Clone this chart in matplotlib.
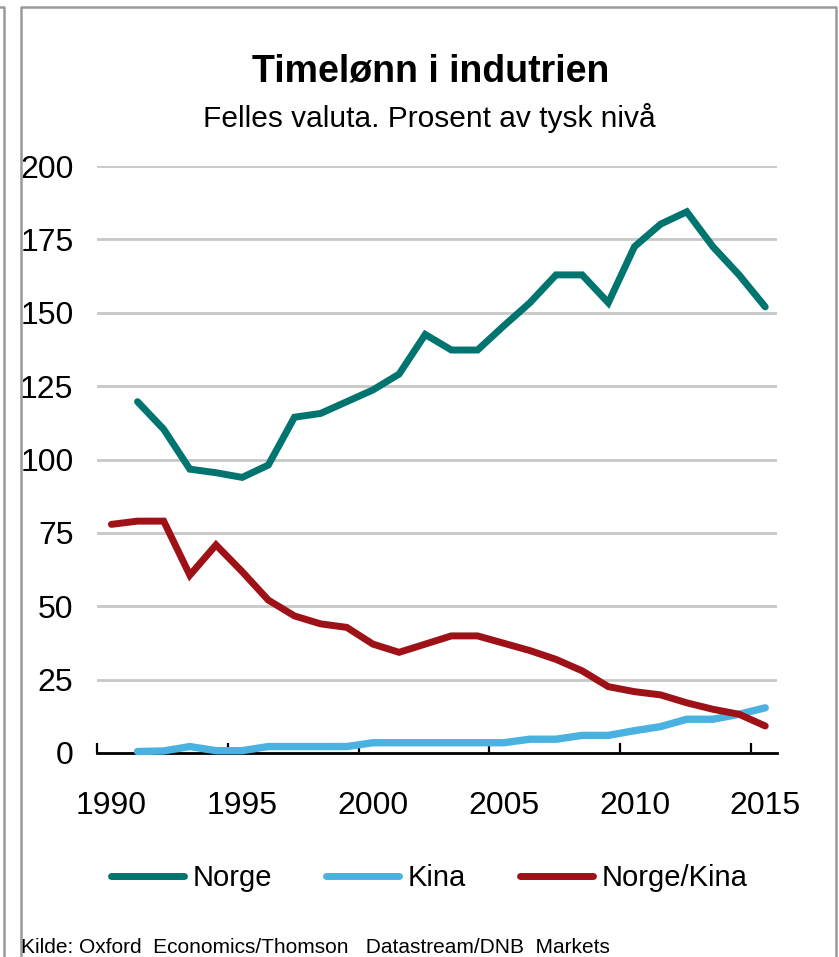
import matplotlib
matplotlib.use("Agg")
import matplotlib.pyplot as plt
from matplotlib.lines import Line2D
import numpy as np

plt.rcParams["font.family"] = ["Liberation Sans", "DejaVu Sans"]

# ---- data ----
years = list(range(1990, 2016))
norge = [np.nan, 119.7, 110.3, 96.7, 95.5, 93.9, 98.1, 114.4, 115.7, 119.7, 123.7,
         129.1, 142.6, 137.3, 137.3, 145.5, 153.4, 162.9, 162.9, 153.4, 172.5,
         180.2, 184.4, 172.5, 162.9, 152.0]
kina = [np.nan, 0.5, 0.7, 2.2, 0.8, 0.8, 2.2, 2.2, 2.2, 2.2, 3.5,
        3.5, 3.5, 3.5, 3.5, 3.5, 4.7, 4.7, 6.0, 6.0, 7.6,
        9.0, 11.5, 11.5, 13.2, 15.4]
norge_kina = [77.9, 79.0, 79.0, 60.6, 70.9, 61.8, 52.1, 46.7, 44.0, 42.8, 37.1,
              34.3, 37.1, 39.9, 39.9, 37.4, 34.9, 31.9, 28.0, 22.6, 20.9,
              19.8, 17.1, 14.9, 13.2, 9.2]
series_names = ["Norge", "Kina", "Norge/Kina"]
colors = ["#00746F", "#4AB2E0", "#9E1117"]
yticks = [0, 25, 50, 75, 100, 125, 150, 175, 200]
xlabel_years = [1990, 1995, 2000, 2005, 2010, 2015]

W, H = 839, 957
fig = plt.figure(figsize=(W / 100, H / 100), dpi=100)
ax = fig.add_axes([97 / W, 1 - 753 / H, (777 - 97) / W, (753 - 166) / H])

off = 0.55
x = np.array(years) + off
for vals, c, n, lw in zip([norge, kina, norge_kina], colors, series_names, [5, 5.3, 5]):
    ax.plot(x, vals, color=c, lw=lw, solid_capstyle="round", solid_joinstyle="miter",
            zorder=3, clip_on=False, label=n)

ax.set_xlim(1990, 2016)
ax.set_ylim(0, 200)
ax.set_yticks(yticks)
ax.set_yticklabels([str(v) for v in yticks])
ax.yaxis.grid(True, color="#C8C8C8", lw=2.0)
ax.set_axisbelow(True)
ax.tick_params(axis="y", length=0, pad=17, labelsize=23)

# year boundary ticks (major), labels centered at mid-year (minor)
ax.set_xticks(xlabel_years)
ax.set_xticklabels([])
ax.set_xticks([y + off for y in xlabel_years], minor=True)
ax.set_xticklabels([str(y) for y in xlabel_years], minor=True)
ax.tick_params(axis="x", which="major", direction="in", length=7, width=1.6, color="black")
ax.tick_params(axis="x", which="minor", length=0, pad=27, labelsize=23)

for s in ["top", "right", "left"]:
    ax.spines[s].set_visible(False)
ax.spines["bottom"].set_linewidth(2.0)
ax.spines["bottom"].set_color("black")

fig.text(431 / W, 1 - 82 / H, "Timelønn i indutrien", ha="center", va="baseline",
         fontsize=27, fontweight="bold")
fig.text(429 / W, 1 - 127 / H, "Felles valuta. Prosent av tysk nivå", ha="center",
         va="baseline", fontsize=21.5)

handles = [Line2D([0], [0], color=c, lw=5, solid_capstyle="round") for c in colors]
fig.legend(handles, series_names, loc="center", bbox_to_anchor=(429 / W, 1 - 878 / H),
           ncol=3, frameon=False, fontsize=21, handlelength=2.5, handletextpad=0.3,
           columnspacing=1.85)

fig.text(21 / W, 1 - 953 / H, "Kilde: Oxford  Economics/Thomson   Datastream/DNB  Markets",
         ha="left", va="baseline", fontsize=15)

# frame lines
gc = "#9A9A9A"
fig.add_artist(Line2D([21 / W, 21 / W, 836 / W, 836 / W], [0, 1 - 7 / H, 1 - 7 / H, 0],
                      color=gc, lw=1.8, transform=fig.transFigure))
fig.add_artist(Line2D([0, 4 / W, 4 / W], [1 - 7 / H, 1 - 7 / H, 0],
                      color=gc, lw=1.8, transform=fig.transFigure))

fig.savefig("out.png", dpi=100)
